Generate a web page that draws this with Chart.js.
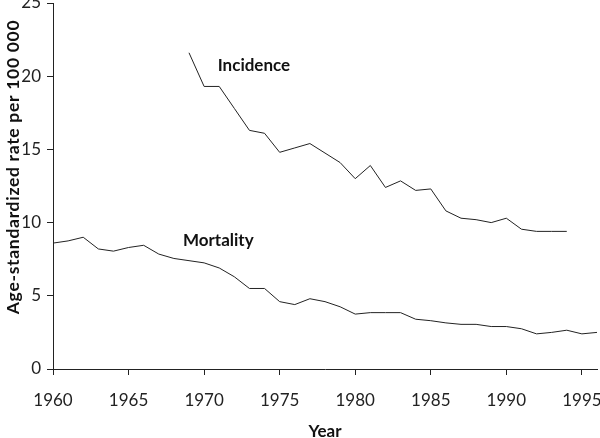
<!DOCTYPE html>
<html>
<head>
<meta charset="utf-8">
<script src="https://cdn.jsdelivr.net/npm/chart.js@4.4.1/dist/chart.umd.min.js"></script>
<style>
  html, body { margin: 0; padding: 0; background: #fff; }
  #wrap { width: 600px; height: 438px; }
</style>
</head>
<body>
<div id="wrap"><canvas id="chart" width="600" height="438"></canvas></div>
<script>
// Data
const incidenceYears = [1969, 1970, 1971, 1972, 1973, 1974, 1975, 1976, 1977, 1978, 1979, 1980, 1981,
  1982, 1983, 1984, 1985, 1986, 1987, 1988, 1989, 1990, 1991, 1992, 1993, 1994];
const incidence = [21.6, 19.3, 19.3, 17.8, 16.3, 16.1, 14.8, 15.1, 15.4, 14.75, 14.1, 13.0, 13.9,
  12.4, 12.85, 12.2, 12.3, 10.8, 10.3, 10.2, 10.0, 10.3, 9.55, 9.4, 9.4, 9.4];

const mortalityYears = [1960, 1961, 1962, 1963, 1964, 1965, 1966, 1967, 1968, 1969, 1970, 1971, 1972,
  1973, 1974, 1975, 1976, 1977, 1978, 1979, 1980, 1981, 1982, 1983, 1984, 1985, 1986, 1987, 1988,
  1989, 1990, 1991, 1992, 1993, 1994, 1995, 1996];
const mortality = [8.6, 8.75, 9.0, 8.2, 8.05, 8.3, 8.45, 7.85, 7.55, 7.4, 7.25, 6.9, 6.3,
  5.5, 5.5, 4.6, 4.4, 4.8, 4.6, 4.25, 3.75, 3.85, 3.85, 3.85, 3.4, 3.3, 3.15, 3.05, 3.05,
  2.9, 2.9, 2.75, 2.4, 2.5, 2.65, 2.4, 2.5];

const xTicks = [1960, 1965, 1970, 1975, 1980, 1985, 1990, 1995];
const yTicks = [0, 5, 10, 15, 20, 25];

const seriesLabels = [
  { text: 'Incidence', x: 1970.9, y: 20.7 },
  { text: 'Mortality', x: 1968.6, y: 8.75 }
];

const FONT = 'Lato, "Open Sans", sans-serif';

const toPoints = (xs, ys) => xs.map((x, i) => ({ x: x, y: ys[i] }));

// draws the in-plot series names and the y axis title
const textPlugin = {
  id: 'texts',
  afterDraw(chart) {
    const c = chart.ctx;
    const xs = chart.scales.x, ys = chart.scales.y;
    c.save();
    c.fillStyle = '#111';
    c.font = 'bold 17px ' + FONT;
    c.textAlign = 'left';
    c.textBaseline = 'middle';
    seriesLabels.forEach(l => {
      c.fillText(l.text, xs.getPixelForValue(l.x), ys.getPixelForValue(l.y));
    });
    c.translate(13, 167);
    c.rotate(-Math.PI / 2);
    c.textAlign = 'center';
    c.font = 'bold 17.5px ' + FONT;
    if ('letterSpacing' in c) c.letterSpacing = '0.7px';
    c.fillText('Age-standardized rate per 100 000', 0, 0);
    c.restore();
  }
};

new Chart(document.getElementById('chart'), {
  type: 'line',
  data: {
    datasets: [
      { label: 'Incidence', data: toPoints(incidenceYears, incidence) },
      { label: 'Mortality', data: toPoints(mortalityYears, mortality) }
    ]
  },
  options: {
    responsive: false,
    animation: false,
    layout: { padding: { top: 3, right: 3, left: 0, bottom: 0 } },
    elements: {
      line: { borderColor: '#222', borderWidth: 1, tension: 0 },
      point: { radius: 0 }
    },
    plugins: { legend: { display: false }, tooltip: { enabled: false } },
    scales: {
      x: {
        type: 'linear',
        min: 1960,
        max: 1996,
        afterBuildTicks: s => { s.ticks = xTicks.map(v => ({ value: v })); },
        afterFit: s => { s.height = 69; s.paddingLeft = 0; s.paddingRight = 0; },
        border: { color: '#222', width: 1 },
        grid: { drawOnChartArea: false, tickLength: 6, tickColor: '#222' },
        ticks: { color: '#222', font: { family: FONT, size: 17 }, padding: 15, maxRotation: 0,
          callback: v => String(v) },
        title: { display: true, text: 'Year', color: '#111', font: { family: FONT, size: 17, weight: 'bold' },
          padding: { top: 0, bottom: -4 } }
      },
      y: {
        min: 0,
        max: 25,
        afterBuildTicks: s => { s.ticks = yTicks.map(v => ({ value: v })); },
        afterFit: s => { s.width = 53; s.paddingTop = 0; s.paddingBottom = 0; },
        border: { color: '#222', width: 1 },
        grid: { drawOnChartArea: false, tickLength: 6, tickColor: '#222' },
        ticks: { color: '#222', font: { family: FONT, size: 17 }, padding: 6, callback: v => String(v) }
      }
    }
  },
  plugins: [textPlugin]
});
</script>
</body>
</html>
